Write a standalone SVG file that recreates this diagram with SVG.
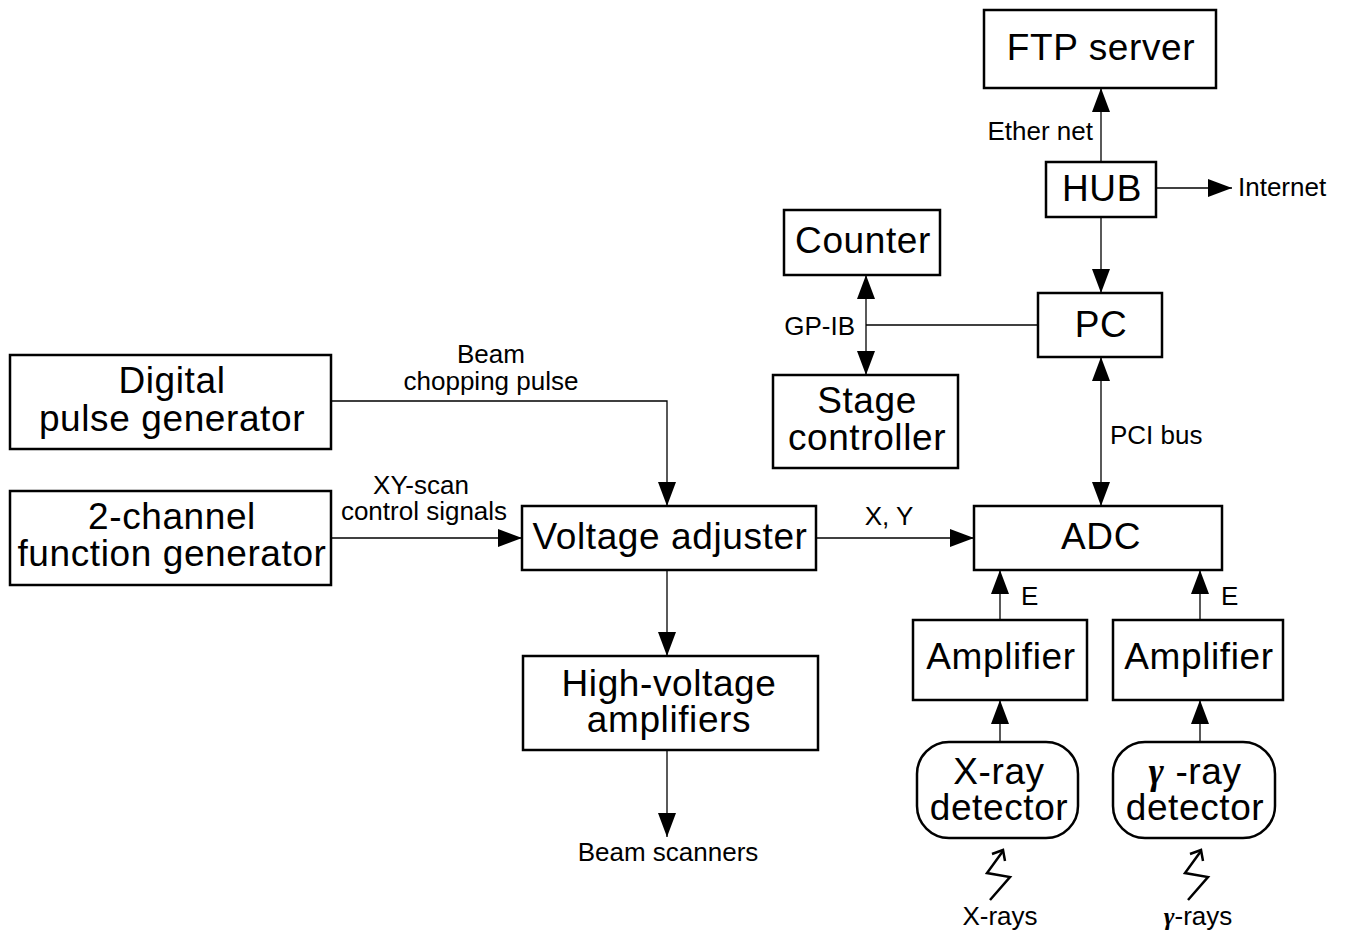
<svg xmlns="http://www.w3.org/2000/svg" width="1349" height="933" viewBox="0 0 1349 933">
  <style>
    .box { fill: #fff; stroke: #000; stroke-width: 2.5; }
    .wire { fill: none; stroke: #000; stroke-width: 1.3; }
    .bolt { fill: none; stroke: #000; stroke-width: 2.5; stroke-linejoin: miter; }
    .big { font-family: "Liberation Sans", Arial, sans-serif; font-size: 37px; letter-spacing: 0.6px; fill: #000; text-anchor: middle; }
    .lbl { font-family: "Liberation Sans", Arial, sans-serif; font-size: 26px; fill: #000; }
    .mid { text-anchor: middle; }
    .end { text-anchor: end; }
    .gam { font-family: "Liberation Serif", "DejaVu Serif", serif; font-style: italic; font-weight: bold; }
  </style>
  <defs>
    <marker id="ah" markerUnits="userSpaceOnUse" markerWidth="26" markerHeight="18" refX="24" refY="9" orient="auto-start-reverse">
      <path d="M0,0 L24,9 L0,18 Z" fill="#000"/>
    </marker>
  </defs>

  <!-- connectors -->
  <g id="connectors">
    <line class="wire" x1="1101" y1="162" x2="1101" y2="88" marker-end="url(#ah)"/>
    <line class="wire" x1="1156" y1="188" x2="1232" y2="188" marker-end="url(#ah)"/>
    <line class="wire" x1="1101" y1="217" x2="1101" y2="293" marker-end="url(#ah)"/>
    <line class="wire" x1="866" y1="275" x2="866" y2="375" marker-start="url(#ah)" marker-end="url(#ah)"/>
    <line class="wire" x1="866" y1="325" x2="1038" y2="325"/>
    <line class="wire" x1="1101" y1="357" x2="1101" y2="506" marker-start="url(#ah)" marker-end="url(#ah)"/>
    <polyline class="wire" points="331,401 667,401 667,506" marker-end="url(#ah)"/>
    <line class="wire" x1="331" y1="538" x2="522" y2="538" marker-end="url(#ah)"/>
    <line class="wire" x1="816" y1="538" x2="974" y2="538" marker-end="url(#ah)"/>
    <line class="wire" x1="667" y1="570" x2="667" y2="656" marker-end="url(#ah)"/>
    <line class="wire" x1="667" y1="750" x2="667" y2="837" marker-end="url(#ah)"/>
    <line class="wire" x1="1000" y1="620" x2="1000" y2="570" marker-end="url(#ah)"/>
    <line class="wire" x1="1200" y1="620" x2="1200" y2="570" marker-end="url(#ah)"/>
    <line class="wire" x1="1000" y1="742" x2="1000" y2="700" marker-end="url(#ah)"/>
    <line class="wire" x1="1200" y1="742" x2="1200" y2="700" marker-end="url(#ah)"/>
    <!-- radiation symbols: zig-zag bolts with open arrowheads -->
    <polyline class="bolt" points="1003,851 987,873 1010,877 990,900"/>
    <polyline class="bolt" points="992,854 1003,850 1005,861"/>
    <polyline class="bolt" points="1201,851 1185,873 1208,877 1188,900"/>
    <polyline class="bolt" points="1190,854 1201,850 1203,861"/>
  </g>

  <!-- connector labels -->
  <g id="labels">
    <text class="lbl end" x="1093" y="140">Ether net</text>
    <text class="lbl" x="1238" y="196">Internet</text>
    <text class="lbl end" x="855" y="335">GP-IB</text>
    <text class="lbl" x="1110" y="444">PCI bus</text>
    <text class="lbl mid" x="491" y="363">Beam</text>
    <text class="lbl mid" x="491" y="390">chopping pulse</text>
    <text class="lbl mid" x="421" y="494">XY-scan</text>
    <text class="lbl mid" x="424" y="520">control signals</text>
    <text class="lbl mid" x="889" y="525">X, Y</text>
    <text class="lbl mid" x="668" y="861">Beam scanners</text>
    <text class="lbl" x="1021" y="605">E</text>
    <text class="lbl" x="1221" y="605">E</text>
    <text class="lbl mid" x="1000" y="925">X-rays</text>
    <text class="lbl mid" x="1198" y="925"><tspan class="gam">γ</tspan>-rays</text>
  </g>

  <g id="ftp">
    <rect class="box" x="984" y="10" width="232" height="78"/>
    <text class="big" x="1101" y="60">FTP server</text>
  </g>
  <g id="hub">
    <rect class="box" x="1046" y="162" width="110" height="55"/>
    <text class="big" x="1102" y="201">HUB</text>
  </g>
  <g id="pc">
    <rect class="box" x="1038" y="293" width="124" height="64"/>
    <text class="big" x="1101" y="337">PC</text>
  </g>
  <g id="counter">
    <rect class="box" x="784" y="210" width="156" height="65"/>
    <text class="big" x="863" y="253">Counter</text>
  </g>
  <g id="stage">
    <rect class="box" x="773" y="375" width="185" height="93"/>
    <text class="big" x="867" y="413">Stage</text>
    <text class="big" x="867" y="450">controller</text>
  </g>
  <g id="adc">
    <rect class="box" x="974" y="506" width="248" height="64"/>
    <text class="big" x="1101" y="549">ADC</text>
  </g>
  <g id="pulsegen">
    <rect class="box" x="10" y="355" width="321" height="94"/>
    <text class="big" x="172" y="393">Digital</text>
    <text class="big" x="172" y="431">pulse generator</text>
  </g>
  <g id="funcgen">
    <rect class="box" x="10" y="491" width="321" height="94"/>
    <text class="big" x="172" y="529">2-channel</text>
    <text class="big" x="172" y="566">function generator</text>
  </g>
  <g id="vadj">
    <rect class="box" x="522" y="506" width="294" height="64"/>
    <text class="big" x="670" y="549">Voltage adjuster</text>
  </g>
  <g id="hvamp">
    <rect class="box" x="523" y="656" width="295" height="94"/>
    <text class="big" x="669" y="696">High-voltage</text>
    <text class="big" x="669" y="732">amplifiers</text>
  </g>
  <g id="amp1">
    <rect class="box" x="913" y="620" width="174" height="80"/>
    <text class="big" x="1001" y="669">Amplifier</text>
  </g>
  <g id="amp2">
    <rect class="box" x="1113" y="620" width="170" height="80"/>
    <text class="big" x="1199" y="669">Amplifier</text>
  </g>
  <g id="xdet">
    <rect class="box" x="917" y="742" width="161" height="96" rx="32"/>
    <text class="big" x="999" y="784">X-ray</text>
    <text class="big" x="999" y="820">detector</text>
  </g>
  <g id="gdet">
    <rect class="box" x="1113" y="742" width="162" height="96" rx="32"/>
    <text class="big" x="1195" y="784"><tspan class="gam">γ</tspan> -ray</text>
    <text class="big" x="1195" y="820">detector</text>
  </g>
</svg>
